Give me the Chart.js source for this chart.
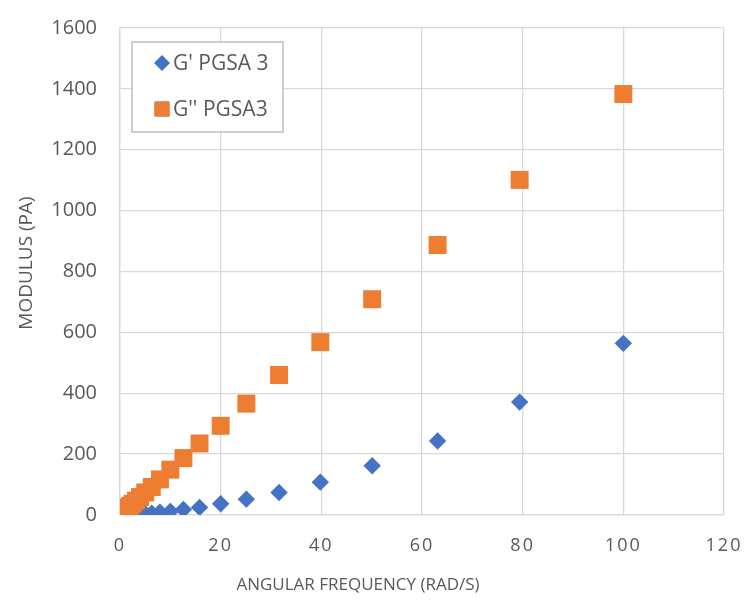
<!DOCTYPE html>
<html>
<head>
<meta charset="utf-8">
<title>Modulus vs angular frequency</title>
<script src="https://cdn.jsdelivr.net/npm/chart.js@4/dist/chart.umd.min.js"></script>
<style>
  html, body { margin: 0; padding: 0; background: #ffffff; }
  #wrap { width: 752px; height: 604px; }
</style>
</head>
<body>
<div id="wrap"><canvas id="chart" width="752" height="604"></canvas></div>
<script>
// Angular frequency sweep (rad/s)
const frequency = [100, 79.4, 63.1, 50.1, 39.8, 31.6, 25.1, 20.0, 15.8, 12.6, 10.0,
                   7.94, 6.31, 5.01, 3.98, 3.16, 2.51, 2.00, 1.58, 1.26, 1.00];
// Storage modulus G' (Pa)
const storageModulus = [564, 371, 243, 162, 108, 74, 52, 37, 25, 18, 12,
                        9, 6, 4.5, 3.2, 2.3, 1.7, 1.2, 0.9, 0.6, 0.4];
// Loss modulus G'' (Pa)
const lossModulus = [1383, 1101, 887, 709, 568, 460, 366, 293, 235, 187, 149,
                     117, 92, 74, 59, 47, 37, 30, 24, 19, 15];
const seriesNames = ["G' PGSA 3", "G'' PGSA3"];
const xTicks = [0, 20, 40, 60, 80, 100, 120];
const yTicks = [0, 200, 400, 600, 800, 1000, 1200, 1400, 1600];
const xTitle = "ANGULAR FREQUENCY (RAD/S)";
const yTitle = "MODULUS (PA)";

const BLUE = '#4472C4';
const ORANGE = '#ED7D31';
const TEXT = '#595959';
const GRID = '#d9d9d9';
const FONT = "'Open Sans', 'Noto Sans', sans-serif";

const toPoints = (ys) => frequency.map((x, i) => ({ x: x, y: ys[i] }));

// Spaced digits on the horizontal axis
const spacedXLabels = {
  id: 'spacedXLabels',
  afterUpdate(chart) {
    const s = chart.scales.x;
    if (!s || s._spacedPatched) return;
    const orig = s.drawLabels;
    s.drawLabels = function (area) {
      const ctx = this.ctx;
      ctx.save();
      ctx.letterSpacing = '2px';
      orig.call(this, area);
      ctx.restore();
    };
    s._spacedPatched = true;
  }
};

// Axis titles
const axisTitles = {
  id: 'axisTitles',
  afterDraw(chart) {
    const ctx = chart.ctx;
    ctx.save();
    ctx.fillStyle = TEXT;
    ctx.textAlign = 'center';
    ctx.textBaseline = 'middle';
    ctx.font = "17px " + FONT;
    ctx.fillText(xTitle, 358, 585);
    ctx.translate(27, 263);
    ctx.rotate(-Math.PI / 2);
    ctx.font = "19px " + FONT;
    ctx.fillText(yTitle, 0, 0);
    ctx.restore();
  }
};

// Boxed legend inside the plot area
const boxedLegend = {
  id: 'boxedLegend',
  afterDraw(chart) {
    const ctx = chart.ctx;
    const box = { x: 132, y: 42, w: 151, h: 90 };
    ctx.save();
    ctx.fillStyle = '#ffffff';
    ctx.fillRect(box.x, box.y, box.w, box.h);
    ctx.strokeStyle = '#bfbfbf';
    ctx.lineWidth = 1.5;
    ctx.strokeRect(box.x, box.y, box.w, box.h);
    const rows = [63, 109];
    chart.data.datasets.forEach((ds, i) => {
      Chart.helpers.drawPoint(ctx, {
        pointStyle: ds.pointStyle,
        radius: i === 0 ? 8 : 10.5,
        borderWidth: 0
      }, 162, rows[i]);
      ctx.fillStyle = ds.backgroundColor;
      ctx.fill();
      ctx.fillStyle = TEXT;
      ctx.font = "21px " + FONT;
      ctx.textAlign = 'left';
      ctx.textBaseline = 'middle';
      ctx.fillText(ds.label, 173, rows[i] + 1);
    });
    ctx.restore();
  }
};

new Chart(document.getElementById('chart'), {
  type: 'scatter',
  data: {
    datasets: [
      {
        label: seriesNames[0],
        data: toPoints(storageModulus),
        pointStyle: 'rectRot',
        pointRadius: 8.7,
        pointHoverRadius: 8.7,
        backgroundColor: BLUE,
        borderColor: BLUE,
        borderWidth: 0,
        order: 1
      },
      {
        label: seriesNames[1],
        data: toPoints(lossModulus),
        pointStyle: 'rect',
        pointRadius: 12.7,
        pointHoverRadius: 12.7,
        backgroundColor: ORANGE,
        borderColor: ORANGE,
        borderWidth: 0,
        order: 0
      }
    ]
  },
  options: {
    responsive: false,
    animation: false,
    devicePixelRatio: 1,
    layout: { padding: { top: 28, right: 28, left: 0, bottom: 0 } },
    plugins: {
      legend: { display: false },
      tooltip: { enabled: false }
    },
    scales: {
      x: {
        type: 'linear',
        min: xTicks[0],
        max: xTicks[xTicks.length - 1],
        afterBuildTicks: (scale) => { scale.ticks = xTicks.map(v => ({ value: v })); },
        afterFit: (scale) => {
          scale.height = 89;
          scale.paddingLeft = 0;
          scale.paddingRight = 0;
        },
        ticks: {
          color: TEXT,
          font: { family: FONT, size: 18 },
          padding: 20,
          maxRotation: 0,
          callback: (v) => String(v)
        },
        grid: { color: GRID, lineWidth: 1.3, drawTicks: false },
        border: { display: true, color: GRID, width: 1.3 }
      },
      y: {
        type: 'linear',
        min: yTicks[0],
        max: yTicks[yTicks.length - 1],
        afterBuildTicks: (scale) => { scale.ticks = yTicks.map(v => ({ value: v })); },
        afterFit: (scale) => {
          scale.width = 120;
          scale.paddingTop = 0;
          scale.paddingBottom = 0;
        },
        ticks: {
          color: TEXT,
          font: { family: FONT, size: 20 },
          padding: 23,
          callback: (v) => String(v)
        },
        grid: { color: GRID, lineWidth: 1.3, drawTicks: false },
        border: { display: true, color: GRID, width: 1.3 }
      }
    }
  },
  plugins: [spacedXLabels, axisTitles, boxedLegend]
});
</script>
</body>
</html>
